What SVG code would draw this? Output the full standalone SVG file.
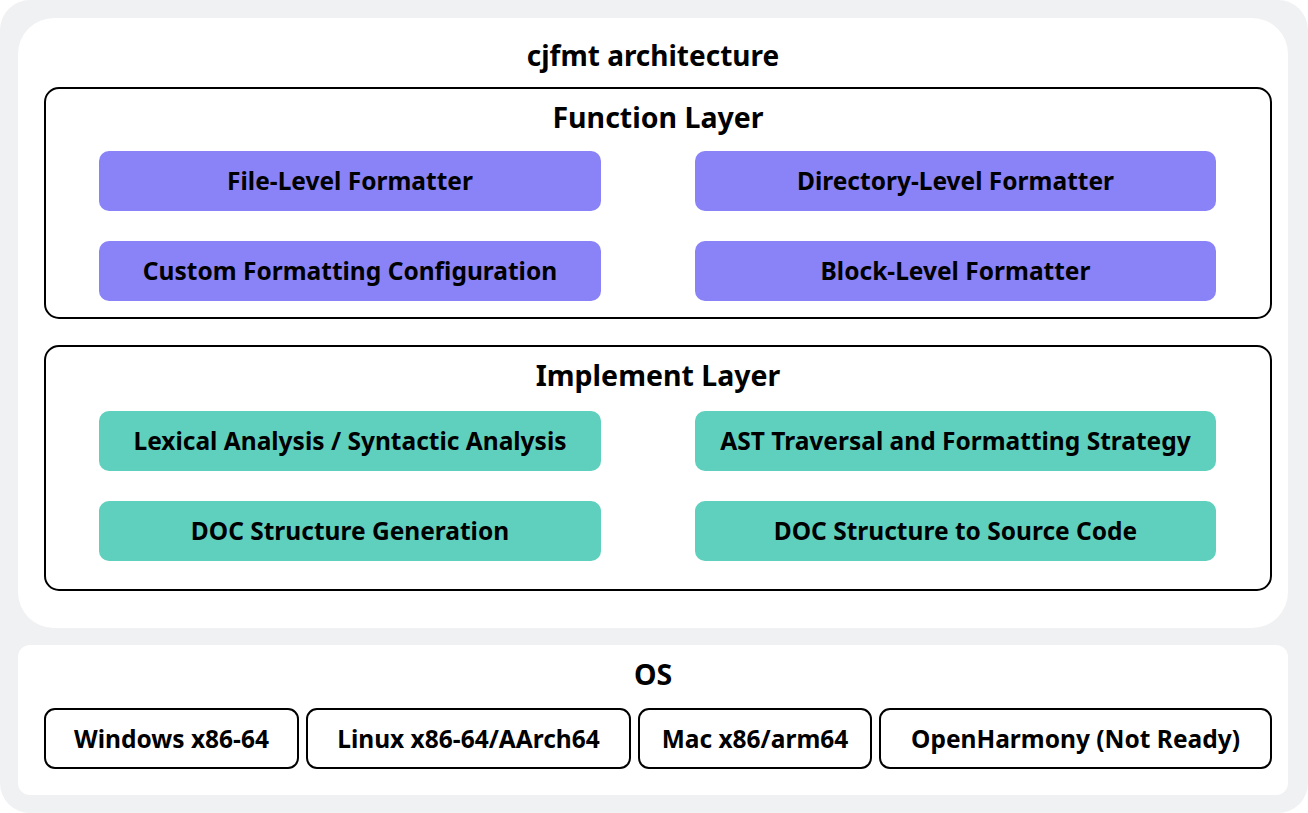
<svg xmlns="http://www.w3.org/2000/svg" width="1308" height="813" viewBox="0 0 1308 813">
<style>
.t{font-family:"Noto Sans","Liberation Sans",sans-serif;font-weight:bold;fill:#000;text-anchor:middle;dominant-baseline:central}
.h{font-size:28.5px}
.l{font-size:24.5px}
.layer{fill:#fff;stroke:#000;stroke-width:2}
.fn{fill:#8983f7}
.im{fill:#5fd0be}
.os{fill:#fff;stroke:#000;stroke-width:2}
</style>
<rect x="0" y="0" width="1308" height="813" rx="30" fill="#f0f1f3"/>
<g id="main">
<rect x="18" y="18" width="1270" height="610" rx="36" fill="#fff"/>
<text class="t h" x="653" y="55" style="font-size:28px">cjfmt architecture</text>
</g>
<g id="function-layer">
<rect class="layer" x="45" y="88" width="1226" height="230" rx="14"/>
<text class="t h" x="658" y="117">Function Layer</text>
</g>
<g id="file-level">
<rect class="fn" x="99" y="151" width="502" height="60" rx="10"/>
<text class="t l" x="350" y="180">File-Level Formatter</text>
</g>
<g id="directory-level">
<rect class="fn" x="695" y="151" width="521" height="60" rx="10"/>
<text class="t l" x="955.5" y="180">Directory-Level Formatter</text>
</g>
<g id="custom-config">
<rect class="fn" x="99" y="241" width="502" height="60" rx="10"/>
<text class="t l" x="350" y="270">Custom Formatting Configuration</text>
</g>
<g id="block-level">
<rect class="fn" x="695" y="241" width="521" height="60" rx="10"/>
<text class="t l" x="955.5" y="270">Block-Level Formatter</text>
</g>
<g id="implement-layer">
<rect class="layer" x="45" y="346" width="1226" height="244" rx="14"/>
<text class="t h" x="658" y="375">Implement Layer</text>
</g>
<g id="lexical">
<rect class="im" x="99" y="411" width="502" height="60" rx="10"/>
<text class="t l" x="350" y="440">Lexical Analysis / Syntactic Analysis</text>
</g>
<g id="ast">
<rect class="im" x="695" y="411" width="521" height="60" rx="10"/>
<text class="t l" x="955.5" y="440">AST Traversal and Formatting Strategy</text>
</g>
<g id="doc-gen">
<rect class="im" x="99" y="501" width="502" height="60" rx="10"/>
<text class="t l" x="350" y="530">DOC Structure Generation</text>
</g>
<g id="doc-source">
<rect class="im" x="695" y="501" width="521" height="60" rx="10"/>
<text class="t l" x="955.5" y="530">DOC Structure to Source Code</text>
</g>
<g id="os">
<rect x="18" y="645" width="1270" height="150" rx="12" fill="#fff"/>
<text class="t h" x="653" y="674">OS</text>
</g>
<g id="windows">
<rect class="os" x="45" y="709" width="253" height="59" rx="10"/>
<text class="t l" x="171.5" y="738">Windows x86-64</text>
</g>
<g id="linux">
<rect class="os" x="307" y="709" width="323" height="59" rx="10"/>
<text class="t l" x="468.5" y="738">Linux x86-64/AArch64</text>
</g>
<g id="mac">
<rect class="os" x="639" y="709" width="232" height="59" rx="10"/>
<text class="t l" x="755" y="738">Mac x86/arm64</text>
</g>
<g id="openharmony">
<rect class="os" x="880" y="709" width="391" height="59" rx="10"/>
<text class="t l" x="1075.5" y="738">OpenHarmony (Not Ready)</text>
</g>
<g id="connectors"></g>
</svg>
